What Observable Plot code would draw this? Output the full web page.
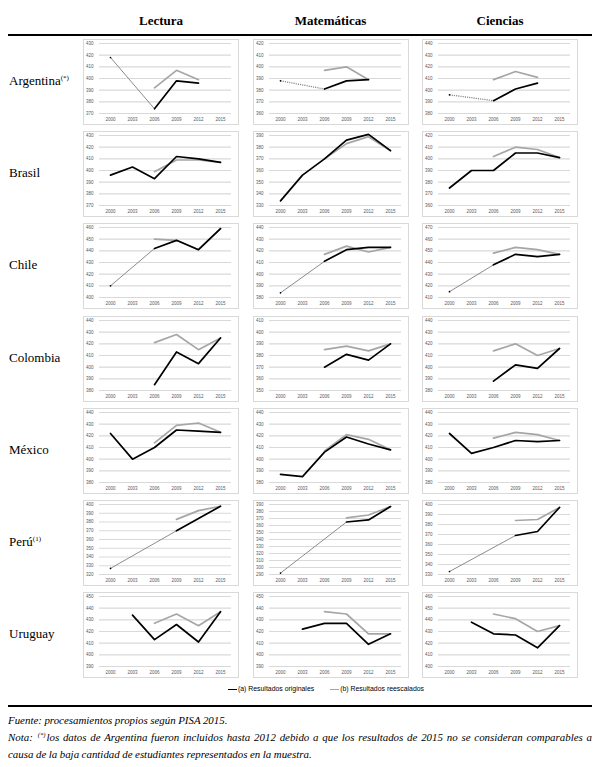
<!DOCTYPE html>
<html><head><meta charset="utf-8">
<script src="https://cdn.jsdelivr.net/npm/d3@7"></script>
<script src="https://cdn.jsdelivr.net/npm/@observablehq/plot@0.6"></script>
<style>
body{margin:0;background:#fff;width:600px;height:767px;position:relative;overflow:hidden;font-family:"Liberation Serif",serif;color:#000}
.hdr{position:absolute;top:13px;font-size:13px;font-weight:bold;transform:translateX(-50%);white-space:nowrap}
.rule{position:absolute;left:8px;width:584px;height:2px;background:#000}
.country{position:absolute;left:9px;font-size:13px;transform:translateY(-50%);white-space:nowrap}
.country sup{font-size:7px;vertical-align:5px}
.panel{position:absolute;width:156px;height:86px;outline:1px solid #d9d9d9;outline-offset:-1px}
.panel svg{display:block}
.legend{position:absolute;top:685px;left:0;width:600px;display:flex;justify-content:center;gap:16px;font-family:"Liberation Sans",sans-serif;font-size:6.9px;color:#000;padding-left:52px;box-sizing:border-box}
.legend span.sw{display:inline-block;width:9px;height:0;vertical-align:middle;margin-right:1px}
.foot{position:absolute;left:8px;width:584px;font-style:italic;font-size:10.9px;line-height:16.5px;white-space:nowrap;word-spacing:-0.2px}
.foot.just{text-align:justify;text-align-last:justify}
.foot .sup{font-size:6.5px;position:relative;top:-4px;margin-left:5px;margin-right:1px}
</style></head>
<body>
<script>
const years = [2000, 2003, 2006, 2009, 2012, 2015];
const subjects = ["Lectura", "Matemáticas", "Ciencias"];
const countries = ["Argentina", "Brasil", "Chile", "Colombia", "México", "Perú", "Uruguay"];
const countryNotes = ["(*)", "", "", "", "", "(1)", ""];

// (a) original results, per subject: Lectura, Matemáticas, Ciencias
const argentinaOriginal = [[418, null, 374, 398, 396, null], [388, null, 381, 388, 389, null], [396, null, 391, 401, 406, null]];
const brasilOriginal    = [[396, 403, 393, 412, 410, 407], [334, 356, 370, 386, 391, 377], [375, 390, 390, 405, 405, 401]];
const chileOriginal     = [[410, null, 442, 449, 441, 459], [384, null, 411, 421, 423, 423], [415, null, 438, 447, 445, 447]];
const colombiaOriginal  = [[null, null, 385, 413, 403, 425], [null, null, 370, 381, 376, 390], [null, null, 388, 402, 399, 416]];
const mexicoOriginal    = [[422, 400, 410, 425, 424, 423], [387, 385, 406, 419, 413, 408], [422, 405, 410, 416, 415, 416]];
const peruOriginal      = [[327, null, null, 370, 384, 398], [292, null, null, 365, 368, 387], [333, null, null, 369, 373, 397]];
const uruguayOriginal   = [[null, 434, 413, 426, 411, 437], [null, 422, 427, 427, 409, 418], [null, 438, 428, 427, 416, 435]];

// (b) rescaled results
const argentinaRescaled = [[null, null, 392, 407, 399, null], [null, null, 397, 400, 389, null], [null, null, 409, 416, 411, null]];
const brasilRescaled    = [[null, null, 399, 409, 409, 407], [null, null, 370, 383, 389, 377], [null, null, 402, 410, 408, 401]];
const chileRescaled     = [[null, null, 450, 449, 441, 459], [null, null, 417, 424, 419, 423], [null, null, 448, 453, 451, 447]];
const colombiaRescaled  = [[null, null, 421, 428, 415, 425], [null, null, 385, 388, 384, 390], [null, null, 414, 420, 410, 416]];
const mexicoRescaled    = [[null, null, 414, 429, 431, 423], [null, null, 407, 421, 417, 408], [null, null, 418, 423, 421, 416]];
const peruRescaled      = [[null, null, null, 383, 393, 398], [null, null, null, 371, 375, 387], [null, null, null, 384, 385, 397]];
const uruguayRescaled   = [[null, null, 427, 435, 425, 437], [null, null, 437, 435, 418, 418], [null, null, 445, 441, 430, 435]];

// y-axis tick label range [first, last] (step 10)
const argentinaAxis = [[370, 430], [360, 420], [380, 440]];
const brasilAxis    = [[370, 430], [330, 390], [360, 420]];
const chileAxis     = [[400, 460], [380, 440], [410, 470]];
const colombiaAxis  = [[380, 440], [350, 410], [380, 440]];
const mexicoAxis    = [[380, 440], [380, 440], [380, 440]];
const peruAxis      = [[320, 400], [290, 390], [330, 400]];
const uruguayAxis   = [[390, 450], [390, 450], [400, 460]];

const dottedBridges = [["Argentina", "Matemáticas"], ["Argentina", "Ciencias"]];

const originals = [argentinaOriginal, brasilOriginal, chileOriginal, colombiaOriginal, mexicoOriginal, peruOriginal, uruguayOriginal];
const rescaleds = [argentinaRescaled, brasilRescaled, chileRescaled, colombiaRescaled, mexicoRescaled, peruRescaled, uruguayRescaled];
const axes = [argentinaAxis, brasilAxis, chileAxis, colombiaAxis, mexicoAxis, peruAxis, uruguayAxis];

const PW = 156, PH = 86;
const colLeft = c => 83 + c * 169.5;
const rowTop = r => 39 + r * 92.2;

function makePanel(orig, resc, axis, dotted) {
  const [lo, hi] = axis;
  const ticks = d3.range(lo, hi + 1, 10);
  const rows = years.map((y, i) => ({year: y, orig: orig[i], resc: resc[i]}));
  const def = rows.map((d, i) => ({...d, i})).filter(d => d.orig != null);
  const bridges = [];
  for (let k = 1; k < def.length; k++) {
    const a = def[k - 1], b = def[k];
    if (b.i - a.i > 1) bridges.push({x1: a.year, y1: a.orig, x2: b.year, y2: b.orig});
  }
  const bridgeOpts = {x1: "x1", y1: "y1", x2: "x2", y2: "y2", stroke: "#8c8c8c", strokeWidth: dotted ? 1.3 : 1};
  if (dotted) bridgeOpts.strokeDasharray = "1.2,1";
  return Plot.plot({
    width: PW, height: PH,
    marginLeft: 16, marginRight: 8, marginTop: 4, marginBottom: 12,
    style: {fontFamily: "Liberation Sans, sans-serif", fontSize: "4.5px", background: "transparent", overflow: "visible"},
    x: {type: "point", domain: years, padding: 0.5, axis: null},
    y: {domain: [lo, hi], axis: null},
    marks: [
      Plot.gridY(ticks, {stroke: "#d9d9d9", strokeOpacity: 1, strokeWidth: 1.1}),
      Plot.axisY(ticks, {tickSize: 0, tickPadding: 6, fill: "#595959", tickFormat: d => String(d), fontSize: 4.5}),
      Plot.axisX(years, {tickSize: 0, tickPadding: 4, fill: "#595959", tickFormat: d => String(d), fontSize: 4.5}),
      Plot.link(bridges, bridgeOpts),
      Plot.line(rows, {x: "year", y: "resc", stroke: "#a6a6a6", strokeWidth: 1.7}),
      Plot.line(rows, {x: "year", y: "orig", stroke: "#000", strokeWidth: 1.7})
    ]
  });
}

const body = document.body;
subjects.forEach((s, c) => {
  const h = document.createElement("div");
  h.className = "hdr";
  h.style.left = (colLeft(c) + PW / 2) + "px";
  h.textContent = s;
  body.appendChild(h);
});
const r1 = document.createElement("div"); r1.className = "rule"; r1.style.top = "34px"; body.appendChild(r1);

countries.forEach((name, r) => {
  const lab = document.createElement("div");
  lab.className = "country";
  lab.style.top = (rowTop(r) + 42) + "px";
  lab.textContent = name;
  if (countryNotes[r]) { const sp = document.createElement("sup"); sp.textContent = countryNotes[r]; lab.appendChild(sp); }
  body.appendChild(lab);
  subjects.forEach((s, c) => {
    const dotted = dottedBridges.some(([cn, sn]) => cn === name && sn === s);
    const div = document.createElement("div");
    div.className = "panel";
    div.style.left = colLeft(c) + "px";
    div.style.top = rowTop(r) + "px";
    div.appendChild(makePanel(originals[r][c], rescaleds[r][c], axes[r][c], dotted));
    body.appendChild(div);
  });
});

const leg = document.createElement("div");
leg.className = "legend";
leg.innerHTML = '<div><span class="sw" style="border-top:1.6px solid #000"></span>(a) Resultados originales</div>' +
                '<div><span class="sw" style="border-top:1.6px solid #a6a6a6"></span>(b) Resultados reescalados</div>';
body.appendChild(leg);

const r2 = document.createElement("div"); r2.className = "rule"; r2.style.top = "705px"; body.appendChild(r2);

const f1 = document.createElement("div"); f1.className = "foot"; f1.style.top = "712px";
f1.textContent = "Fuente: procesamientos propios según PISA 2015.";
body.appendChild(f1);
const f2 = document.createElement("div"); f2.className = "foot just"; f2.style.top = "729px";
f2.innerHTML = "Nota:<span class=\"sup\">(*)</span>los datos de Argentina fueron incluidos hasta 2012 debido a que los resultados de 2015 no se consideran comparables a";
body.appendChild(f2);
const f3 = document.createElement("div"); f3.className = "foot"; f3.style.top = "745.5px";
f3.textContent = "causa de la baja cantidad de estudiantes representados en la muestra.";
body.appendChild(f3);
</script>
</body></html>
